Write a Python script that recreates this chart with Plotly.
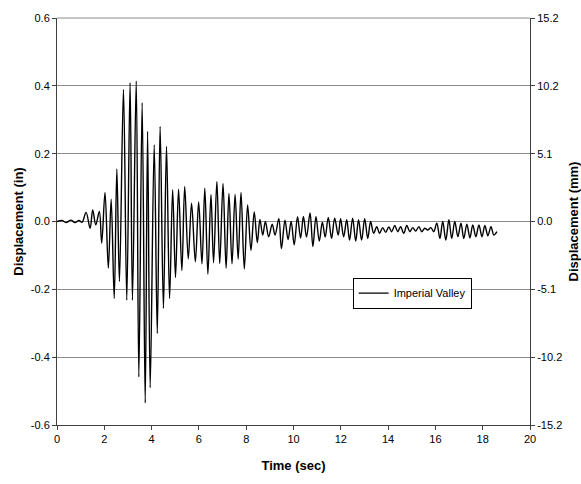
import plotly.graph_objects as go

# Time (sec) of read-off turning points of the displacement record
time_sec = [0.00, 0.21, 0.38, 0.59, 0.76, 0.93, 1.06, 1.23, 1.40, 1.51, 1.64, 1.79, 1.89, 2.03, 2.17, 2.29,
            2.42, 2.53, 2.64, 2.81, 2.95, 3.09, 3.19, 3.35, 3.46, 3.60, 3.73, 3.83, 3.94, 4.11, 4.24, 4.36,
            4.50, 4.63, 4.76, 4.89, 5.01, 5.14, 5.28, 5.40, 5.55, 5.69, 5.85, 5.99, 6.13, 6.25, 6.38, 6.51,
            6.62, 6.76, 6.88, 7.02, 7.15, 7.27, 7.40, 7.53, 7.66, 7.78, 7.92, 8.06, 8.20, 8.34, 8.47, 8.58,
            8.70, 8.81, 8.95, 9.10, 9.22, 9.38, 9.49, 9.64, 9.77, 9.90, 10.03, 10.17, 10.30, 10.42, 10.55,
            10.70, 10.82, 10.95, 11.09, 11.22, 11.34, 11.47, 11.61, 11.74, 11.89, 11.99, 12.12, 12.25, 12.37,
            12.50, 12.63, 12.75, 12.88, 13.01, 13.14, 13.26, 13.39, 13.52, 13.64, 13.77, 13.90, 14.03, 14.15,
            14.28, 14.41, 14.53, 14.66, 14.79, 14.92, 15.04, 15.17, 15.30, 15.42, 15.55, 15.68, 15.81, 15.93,
            16.06, 16.19, 16.31, 16.44, 16.57, 16.69, 16.82, 16.95, 17.08, 17.20, 17.33, 17.46, 17.58, 17.71,
            17.84, 17.97, 18.09, 18.22, 18.35, 18.47, 18.60]

# Displacement (in) at those points
disp_in = [0.000, 0.003, -0.003, 0.004, -0.003, 0.003, -0.002, 0.027, -0.020, 0.034, -0.010, 0.030, -0.064,
           0.086, -0.138, 0.066, -0.227, 0.155, -0.177, 0.389, -0.232, 0.409, -0.232, 0.414, -0.458, 0.350,
           -0.535, 0.266, -0.490, 0.226, -0.330, 0.280, -0.256, 0.221, -0.227, 0.094, -0.165, 0.095, -0.145,
           0.103, -0.110, 0.054, -0.119, 0.058, -0.125, 0.098, -0.155, 0.080, -0.122, 0.118, -0.124, 0.112,
           -0.138, 0.083, -0.125, 0.080, -0.111, 0.086, -0.140, 0.049, -0.085, 0.028, -0.062, 0.006, -0.040,
           0.000, -0.045, -0.008, -0.040, 0.008, -0.080, 0.004, -0.053, 0.000, -0.069, 0.014, -0.049, 0.015,
           -0.046, 0.025, -0.074, 0.014, -0.058, -0.002, -0.046, 0.012, -0.050, 0.010, -0.040, 0.008, -0.045,
           0.005, -0.055, 0.010, -0.058, 0.005, -0.055, 0.008, -0.050, 0.000, -0.035, -0.015, -0.035, -0.018,
           -0.032, -0.016, -0.030, -0.012, -0.030, -0.015, -0.035, -0.012, -0.030, -0.018, -0.028, -0.015,
           -0.030, -0.020, -0.025, -0.018, -0.030, -0.005, -0.050, 0.000, -0.055, 0.005, -0.050, 0.000, -0.045,
           -0.005, -0.050, -0.008, -0.048, -0.010, -0.045, -0.010, -0.045, -0.012, -0.042, -0.015, -0.040,
           -0.030]

series_name = "Imperial Valley"

x_ticks = [0, 2, 4, 6, 8, 10, 12, 14, 16, 18, 20]
y_in_ticks = [-0.6, -0.4, -0.2, 0.0, 0.2, 0.4, 0.6]
y_in_labels = ["-0.6", "-0.4", "-0.2", "0.0", "0.2", "0.4", "0.6"]
y_mm_labels = ["-15.2", "-10.2", "-5.1", "0.0", "5.1", "10.2", "15.2"]
IN_TO_MM = 25.4

FONT = "Liberation Sans, Arial, sans-serif"
AX = "#404040"
GRID = "#8c8c8c"

fig = go.Figure()
fig.add_trace(go.Scatter(
    x=time_sec, y=disp_in, mode="lines", name=series_name,
    line=dict(color="black", width=1.4, shape="spline", smoothing=1.0),
    showlegend=True,
))
# invisible companion trace on the mm axis so the secondary axis is drawn
fig.add_trace(go.Scatter(
    x=time_sec, y=[v * IN_TO_MM for v in disp_in], mode="lines", yaxis="y2",
    line=dict(color="rgba(0,0,0,0)", width=0), showlegend=False, hoverinfo="skip",
))

fig.update_layout(
    width=581, height=484,
    margin=dict(l=57, r=51, t=18, b=59, autoexpand=False),
    paper_bgcolor="white", plot_bgcolor="white",
    font=dict(family=FONT, size=11, color="black"),
    xaxis=dict(
        range=[0, 20], tickvals=x_ticks, ticks="outside", ticklen=4, tickcolor=AX,
        showline=True, linecolor=AX, linewidth=1, showgrid=False, zeroline=False,
        automargin=False,
        title=dict(text="<b>Time (sec)</b>", font=dict(size=13, family=FONT), standoff=16),
        tickfont=dict(size=11),
    ),
    yaxis=dict(
        range=[-0.6, 0.6], tickvals=y_in_ticks, ticktext=y_in_labels,
        ticks="outside", ticklen=4, tickcolor=AX,
        showline=True, linecolor=AX, linewidth=1,
        showgrid=True, gridcolor=GRID, gridwidth=1, zeroline=False,
        automargin=False,
        title=dict(text="<b>Displacement (in)</b>", font=dict(size=13, family=FONT), standoff=4),
        tickfont=dict(size=11),
    ),
    yaxis2=dict(
        overlaying="y", side="right",
        range=[-0.6 * IN_TO_MM, 0.6 * IN_TO_MM],
        tickvals=[v * IN_TO_MM for v in y_in_ticks], ticktext=y_mm_labels,
        ticks="outside", ticklen=4, tickcolor=AX,
        showline=True, linecolor=AX, linewidth=1, showgrid=False, zeroline=False,
        automargin=False,
        title=dict(text="<b>Displacement (mm)</b>", font=dict(size=13, family=FONT), standoff=8),
        tickfont=dict(size=11),
    ),
    legend=dict(
        x=0.625, y=0.362, xanchor="left", yanchor="top",
        bgcolor="white", bordercolor="black", borderwidth=1,
        font=dict(size=11, family=FONT), itemwidth=30,
    ),
    shapes=[dict(type="line", xref="paper", yref="paper", x0=0, x1=1, y0=1, y1=1,
                 line=dict(color=GRID, width=1))],
)

fig.write_html("out.html")
